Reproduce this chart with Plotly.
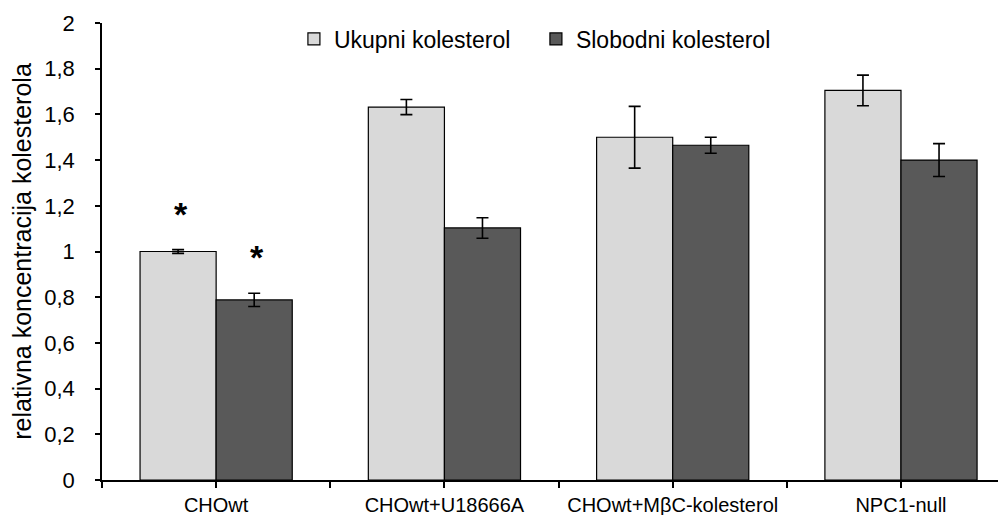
import plotly.graph_objects as go

categories = ['CHOwt', 'CHOwt+U18666A', 'CHOwt+MβC-kolesterol', 'NPC1-null']
ukupni = [1.0, 1.632, 1.50, 1.705]
ukupni_err = [0.008, 0.033, 0.135, 0.067]
slobodni = [0.788, 1.103, 1.465, 1.40]
slobodni_err = [0.029, 0.045, 0.035, 0.072]
# significance marks: (category index, series offset, top of bar+error)
stars = [(0, -1, ukupni[0] + ukupni_err[0]), (0, 1, slobodni[0] + slobodni_err[0])]

FONT = 'Arial, Liberation Sans, sans-serif'
xpos = list(range(len(categories)))

fig = go.Figure()

fig.add_trace(go.Bar(
    x=xpos, y=ukupni, name='Ukupni kolesterol',
    marker=dict(color='#d9d9d9', line=dict(color='black', width=1.2)),
    error_y=dict(type='data', array=ukupni_err, color='black', thickness=1.6, width=6)))

fig.add_trace(go.Bar(
    x=xpos, y=slobodni, name='Slobodni kolesterol',
    marker=dict(color='#595959', line=dict(color='black', width=1.2)),
    error_y=dict(type='data', array=slobodni_err, color='black', thickness=1.6, width=6)))

for idx, side, top in stars:
    fig.add_annotation(x=idx + side / 6, y=top, text='<b>*</b>', showarrow=False,
                       yanchor='middle', yshift=36, xshift=3,
                       font=dict(family=FONT, size=34, color='black'))

# ticks at category borders and at centres, labels only at centres
tickvals = [i / 2 for i in range(-1, 2 * len(categories))]
ticktext = [categories[int(v)] if v == int(v) else '' for v in tickvals]

# page body adds an 8px margin, so the figure is 8px smaller than the window
fig.update_layout(
    width=998, height=507,
    barmode='group', bargap=1 / 3, bargroupgap=0,
    plot_bgcolor='white', paper_bgcolor='white',
    separators=', ',
    margin=dict(l=94, r=0, t=15, b=35),
    font=dict(family=FONT, color='black'),
    showlegend=True,
    legend=dict(orientation='h', x=0.48, xanchor='center', y=1.012, yanchor='top',
                font=dict(family=FONT, size=23, color='black'),
                bgcolor='rgba(0,0,0,0)', itemwidth=30, entrywidth=197,
                traceorder='normal'),
)

fig.update_xaxes(
    range=[-0.5, 3.46], tickmode='array', tickvals=tickvals, ticktext=ticktext,
    showgrid=False, zeroline=False, showline=True, linecolor='black', linewidth=1.6,
    ticks='outside', ticklen=6, tickwidth=1.6, tickcolor='black',
    tickfont=dict(family=FONT, size=20, color='black'))

fig.update_yaxes(
    range=[0, 2], dtick=0.2, showgrid=False, zeroline=False,
    showline=True, linecolor='black', linewidth=1.6,
    ticks='outside', ticklen=5, tickwidth=1.6, tickcolor='black',
    ticklabelstandoff=16,
    tickfont=dict(family=FONT, size=22, color='black'),
    title=dict(text='relativna koncentracija kolesterola', standoff=16,
               font=dict(family=FONT, size=25, color='black')))

fig.write_html('out.html')
